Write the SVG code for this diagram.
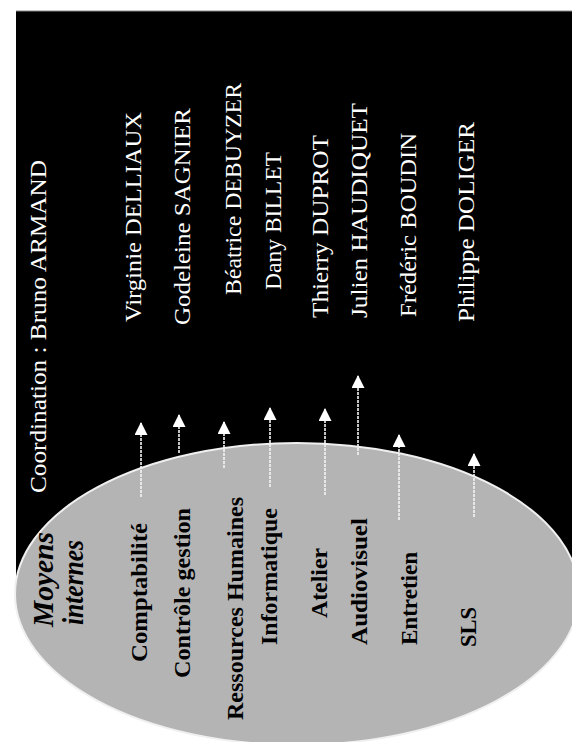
<svg xmlns="http://www.w3.org/2000/svg" width="572" height="742" viewBox="0 0 572 742">
  <defs>
    <style>
      .name { font-family: "Liberation Serif", "Times New Roman", serif; font-size: 23px; fill: #ffffff; }
      .cat { font-family: "Liberation Serif", "Times New Roman", serif; font-size: 24px; font-weight: bold; fill: #000000; }
      .title { font-family: "Liberation Serif", "Times New Roman", serif; font-size: 30px; font-style: italic; font-weight: bold; fill: #000000; }
      .arrow { stroke: #f4f4f4; stroke-width: 1.6; stroke-dasharray: 3 1; fill: none; marker-end: url(#head); }
    </style>
    <marker id="head" viewBox="0 0 13 13" refX="12" refY="6.5" markerWidth="13" markerHeight="13" markerUnits="userSpaceOnUse" orient="auto">
      <path d="M0,0 L13,6.5 L0,13 Z" fill="#ffffff"/>
    </marker>
  </defs>
  <rect x="0" y="0" width="572" height="742" fill="#ffffff"/>
  <g id="background">
    <rect x="16" y="11" width="560" height="590" fill="#000000"/>
    <line x1="16" y1="11" x2="572" y2="11" stroke="#888888" stroke-width="1"/>
  </g>
  <g id="ellipse">
    <ellipse cx="297" cy="594" rx="282" ry="151" fill="#b4b4b4" stroke="#f0f0f0" stroke-width="2"/>
  </g>
  <g id="connectors">
    <path class="arrow" d="M141,497 V423"/>
    <path class="arrow" d="M179,453 V415"/>
    <path class="arrow" d="M224,468 V422"/>
    <path class="arrow" d="M270,487 V408"/>
    <path class="arrow" d="M325,495 V409"/>
    <path class="arrow" d="M358,455 V376"/>
    <path class="arrow" d="M399,520 V435"/>
    <path class="arrow" d="M474,517 V454"/>
  </g>
  <g id="coordination">
    <text class="name" transform="translate(46,493) rotate(-90)" textLength="333" lengthAdjust="spacingAndGlyphs">Coordination : Bruno ARMAND</text>
  </g>
  <g id="names">
    <text class="name" transform="translate(141,322) rotate(-90)" textLength="210" lengthAdjust="spacingAndGlyphs">Virginie DELLIAUX</text>
    <text class="name" transform="translate(190,325) rotate(-90)" textLength="217" lengthAdjust="spacingAndGlyphs">Godeleine SAGNIER</text>
    <text class="name" transform="translate(241,295) rotate(-90)" textLength="212" lengthAdjust="spacingAndGlyphs">Béatrice DEBUYZER</text>
    <text class="name" transform="translate(281,290) rotate(-90)" textLength="138" lengthAdjust="spacingAndGlyphs">Dany BILLET</text>
    <text class="name" transform="translate(328,318) rotate(-90)" textLength="183" lengthAdjust="spacingAndGlyphs">Thierry DUPROT</text>
    <text class="name" transform="translate(367,318) rotate(-90)" textLength="215" lengthAdjust="spacingAndGlyphs">Julien HAUDIQUET</text>
    <text class="name" transform="translate(416,317) rotate(-90)" textLength="184" lengthAdjust="spacingAndGlyphs">Frédéric BOUDIN</text>
    <text class="name" transform="translate(474,322) rotate(-90)" textLength="200" lengthAdjust="spacingAndGlyphs">Philippe DOLIGER</text>
  </g>
  <g id="moyens-internes">
    <text class="title" transform="translate(53,627) rotate(-90)" textLength="95" lengthAdjust="spacingAndGlyphs">Moyens</text>
    <text class="title" transform="translate(83,625) rotate(-90)" textLength="85" lengthAdjust="spacingAndGlyphs">internes</text>
  </g>
  <g id="services">
    <text class="cat" transform="translate(147,662) rotate(-90)" textLength="139" lengthAdjust="spacingAndGlyphs">Comptabilité</text>
    <text class="cat" transform="translate(190,678) rotate(-90)" textLength="170" lengthAdjust="spacingAndGlyphs">Contrôle gestion</text>
    <text class="cat" transform="translate(243,720) rotate(-90)" textLength="223" lengthAdjust="spacingAndGlyphs">Ressources Humaines</text>
    <text class="cat" transform="translate(277,645) rotate(-90)" textLength="137" lengthAdjust="spacingAndGlyphs">Informatique</text>
    <text class="cat" transform="translate(327,618) rotate(-90)" textLength="70" lengthAdjust="spacingAndGlyphs">Atelier</text>
    <text class="cat" transform="translate(367,645) rotate(-90)" textLength="127" lengthAdjust="spacingAndGlyphs">Audiovisuel</text>
    <text class="cat" transform="translate(417,645) rotate(-90)" textLength="93" lengthAdjust="spacingAndGlyphs">Entretien</text>
    <text class="cat" transform="translate(476,647) rotate(-90)" textLength="40" lengthAdjust="spacingAndGlyphs">SLS</text>
  </g>
</svg>
